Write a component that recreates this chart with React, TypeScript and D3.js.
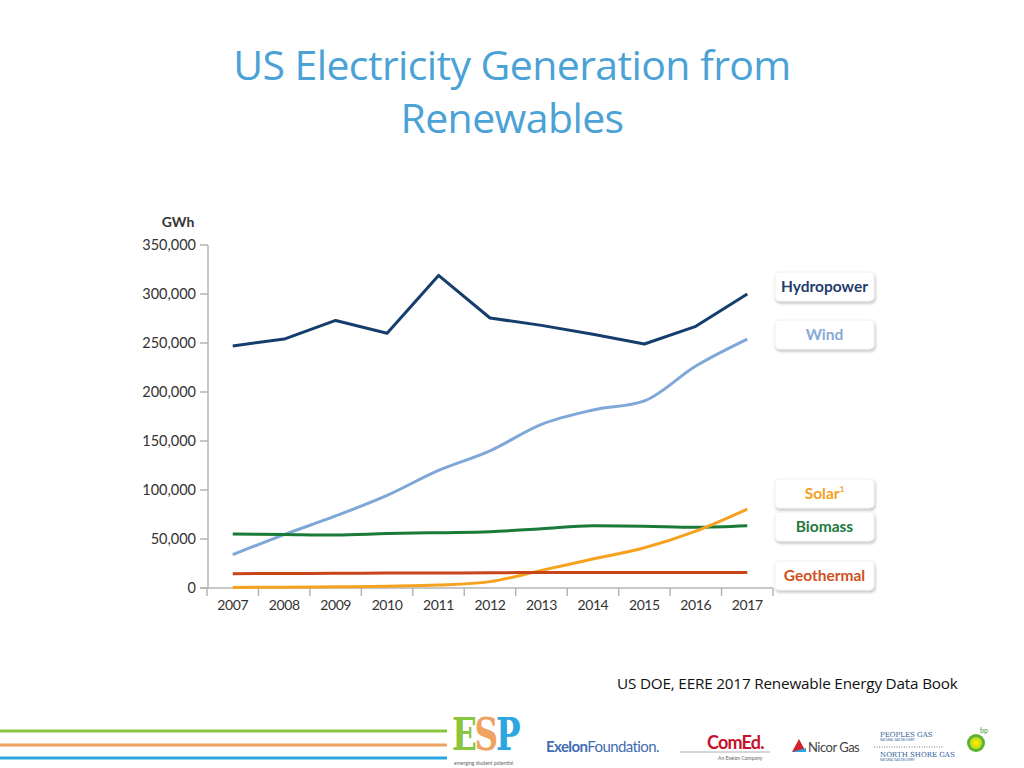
import React from "react";
import * as d3 from "d3";

const years = ["2007","2008","2009","2010","2011","2012","2013","2014","2015","2016","2017"];
const hydropower = [247000,254000,273000,260000,319000,275500,268000,259000,249000,267000,300000];
const wind = [34000,54500,73500,94500,120000,140000,167000,181600,191000,226500,254000];
const biomass = [55000,54500,54000,55500,56500,57500,60500,63500,63000,62000,63500];
const solar = [600,800,1200,1800,3000,6500,18000,29500,41000,58000,80500];
const geothermal = [14600,14800,15000,15200,15300,15600,15800,15900,15900,15800,15900];
const yTicks = [0,50000,100000,150000,200000,250000,300000,350000];

const seriesNames = ["Hydropower","Wind","Biomass","Solar","Geothermal"];
const seriesValues = [hydropower, wind, biomass, solar, geothermal];
const seriesColors = ["#163e6c","#7fa7d8","#1a7a37","#f6a21e","#c6461a"];
const legendNames = ["Hydropower","Wind","Solar","Biomass","Geothermal"];
const legendColors = ["#1f3d6e","#86aad6","#f4a11d","#1d7a3c","#d0501e"];
const legendY = [272,320,479,512,561];

export default function App() {
  const x = d3.scaleBand().domain(years).range([207, 773]).padding(0);
  const y = d3.scaleLinear().domain([0, 350000]).range([588, 245]);
  const cx = (yr: string) => (x(yr) as number) + x.bandwidth() / 2;
  const fmt = d3.format(",");
  const font = "Lato, 'Open Sans', sans-serif";

  return (
    <svg width={1024} height={768} style={{ position: "absolute", left: 0, top: 0, background: "#fff" }} fontFamily={font}>
      <defs>
        <filter id="sh" x="-20%" y="-30%" width="140%" height="170%">
          <feDropShadow dx="1" dy="2" stdDeviation="1.6" floodColor="#000" floodOpacity="0.25" />
        </filter>
      </defs>

      {/* Title */}
      <text x={512} y={80} textAnchor="middle" fill="#4aa2d6" fontSize={41} fontFamily="'Open Sans', Lato, sans-serif" letterSpacing={-0.6}>US Electricity Generation from</text>
      <text x={512} y={133} textAnchor="middle" fill="#4aa2d6" fontSize={41} fontFamily="'Open Sans', Lato, sans-serif" letterSpacing={-0.6}>Renewables</text>

      {/* Y axis */}
      <text x={178} y={227} textAnchor="middle" fontSize={14} fontWeight="bold" fill="#333">GWh</text>
      <line x1={208} x2={208} y1={y(350000)} y2={y(0)} stroke="#b5b5b5" strokeWidth={1.5} />
      {yTicks.map(t => (
        <g key={t}>
          <line x1={200} x2={208} y1={y(t)} y2={y(t)} stroke="#b5b5b5" strokeWidth={1.5} />
          <text x={196} y={y(t) + 5} textAnchor="end" fontSize={14.5} fill="#333">{fmt(t)}</text>
        </g>
      ))}

      {/* X axis */}
      <line x1={200} x2={773} y1={588} y2={588} stroke="#b5b5b5" strokeWidth={1.5} />
      {years.map((yr, i) => (
        <g key={yr}>
          <line x1={(x(yr) as number)} x2={(x(yr) as number)} y1={588} y2={596} stroke="#b5b5b5" strokeWidth={1.5} />
          {i === years.length - 1 && <line x1={773} x2={773} y1={588} y2={596} stroke="#b5b5b5" strokeWidth={1.5} />}
          <text x={cx(yr)} y={610} textAnchor="middle" fontSize={14} fill="#333" letterSpacing={-0.4}>{yr}</text>
        </g>
      ))}

      {/* Lines */}
      {seriesValues.map((vals, i) => {
        const line = d3.line<number>()
          .x((_, j) => cx(years[j]))
          .y(v => y(v))
          .curve(i === 0 ? d3.curveLinear : d3.curveMonotoneX);
        return <path key={seriesNames[i]} d={line(vals) || ""} fill="none" stroke={seriesColors[i]} strokeWidth={3} strokeLinejoin="round" />;
      })}

      {/* Legend */}
      {legendNames.map((n, i) => (
        <g key={n}>
          <rect x={775} y={legendY[i]} width={99} height={29} rx={4} fill="#fff" stroke="#eee" strokeWidth={0.8} filter="url(#sh)" />
          <text x={824.5} y={legendY[i] + 20} textAnchor="middle" fontSize={15.5} fontWeight="bold" fill={legendColors[i]}>
            {n}{n === "Solar" && <tspan fontSize={8} dy={-7}>1</tspan>}
          </text>
        </g>
      ))}

      {/* Source */}
      <text x={617} y={689} fontSize={15.3} fill="#111" fontFamily="'Open Sans', sans-serif" letterSpacing={-0.2}>US DOE, EERE 2017  Renewable Energy Data Book</text>

      {/* Footer stripes */}
      <line x1={0} x2={447} y1={731} y2={731} stroke="#8cc540" strokeWidth={3} />
      <line x1={0} x2={447} y1={745} y2={745} stroke="#f0a260" strokeWidth={3} />
      <line x1={0} x2={447} y1={758} y2={758} stroke="#2ba6de" strokeWidth={3} />

      {/* ESP logo */}
      <g transform="translate(452,750) scale(0.78,1.05)">
        <text x={0} y={0} fontSize={42} fontWeight="bold" fontFamily="'DejaVu Serif', serif" letterSpacing={-3}>
          <tspan fill="#8cc540">E</tspan><tspan fill="#f0a260">S</tspan><tspan fill="#2ba6de">P</tspan>
        </text>
      </g>
      <text x={454} y={765} fontSize={5} fill="#666">emerging student potential</text>

      {/* Exelon Foundation */}
      <text x={546} y={752} fontSize={15} fill="#3f6db3" letterSpacing={-0.6}>
        <tspan fontWeight="bold">Exelon</tspan><tspan>Foundation.</tspan>
      </text>

      {/* ComEd */}
      <text x={707} y={749} fontSize={18} fontWeight="bold" fill="#c4122f" letterSpacing={-0.8}>ComEd.</text>
      <line x1={680} x2={770} y1={752} y2={752} stroke="#999" strokeWidth={0.8} />
      <text x={718} y={760} fontSize={5} fill="#666">An Exelon Company</text>

      {/* Nicor Gas */}
      <path d="M792,752 L799,739 L806,752 Z" fill="#d2232a" />
      <path d="M792,752 L806,752 L806,748 Z" fill="#2ba6de" />
      <text x={808} y={752} fontSize={13} fill="#444" letterSpacing={-0.5}>Nicor Gas</text>

      {/* Peoples Gas */}
      <text x={880} y={737} fontSize={7} fill="#2f5e9c" fontFamily="'DejaVu Serif', serif">PEOPLES GAS</text>
      <text x={880} y={741} fontSize={3} fill="#2f5e9c">NATURAL GAS DELIVERY</text>
      <line x1={874} x2={944} y1={747} y2={747} stroke="#555" strokeWidth={0.8} strokeDasharray="1,1.5" />
      <text x={880} y={757} fontSize={7} fill="#2f5e9c" fontFamily="'DejaVu Serif', serif">NORTH SHORE GAS</text>
      <text x={880} y={761} fontSize={3} fill="#2f5e9c">NATURAL GAS DELIVERY</text>

      {/* bp */}
      <circle cx={976} cy={743} r={9} fill="#5cb531" />
      <circle cx={976} cy={743} r={6} fill="#c7e21a" />
      <circle cx={976} cy={743} r={3} fill="#ffe500" />
      <text x={980} y={733} fontSize={7} fill="#3a9a35">bp</text>
    </svg>
  );
}
